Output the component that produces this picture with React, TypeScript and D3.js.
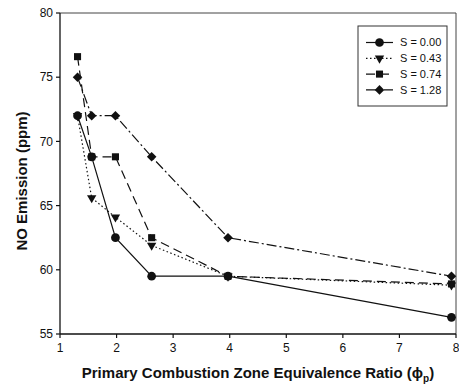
import React from "react";
import * as d3 from "d3";

const phi = [1.31, 1.56, 1.98, 2.62, 3.97, 7.92];
const s000 = [72.0, 68.8, 62.5, 59.5, 59.5, 56.3];
const s043 = [72.0, 65.6, 64.1, 61.9, 59.5, 58.8];
const s074 = [76.6, 68.8, 68.8, 62.5, 59.5, 58.9];
const s128 = [75.0, 72.0, 72.0, 68.8, 62.5, 59.5];
const seriesNames = ["S = 0.00", "S = 0.43", "S = 0.74", "S = 1.28"];
const xTicks = [1, 2, 3, 4, 5, 6, 7, 8];
const yTicks = [55, 60, 65, 70, 75, 80];

const W = 459, H = 388;
const L = 60, R = 456, T = 13, B = 334;

const styles = [
  { dash: "", sym: d3.symbolCircle, size: 60, rot: 0 },
  { dash: "1.5,2.5", sym: d3.symbolTriangle, size: 38, rot: 180 },
  { dash: "9,5", sym: d3.symbolSquare, size: 50, rot: 0 },
  { dash: "10,3,2,3", sym: d3.symbolSquare, size: 46, rot: 45 },
];

export default function App() {
  const x = d3.scaleLinear().domain([1, 8]).range([L, R]);
  const y = d3.scaleLinear().domain([55, 80]).range([B, T]);
  const all = [s000, s043, s074, s128];
  const line = d3.line<number>().x((_, i) => x(phi[i])).y((d) => y(d));
  const font = "'Liberation Sans', Arial, sans-serif";
  const ink = "#111";
  const legX = 358, legY = 26, legW = 89, legH = 80;
  return (
    <svg width={W} height={H} style={{ position: "absolute", left: 0, top: 0, background: "#fff" }}>
      <rect x={0} y={0} width={W} height={H} fill="#fff" />
      <line x1={L} x2={R} y1={T} y2={T} stroke="#444" strokeWidth={1} />
      <line x1={R} x2={R} y1={T} y2={B} stroke="#444" strokeWidth={1} />
      <line x1={L} x2={L} y1={T} y2={B} stroke={ink} strokeWidth={1.3} />
      <line x1={L} x2={R} y1={B} y2={B} stroke={ink} strokeWidth={1.3} />
      {yTicks.map((t) => (
        <g key={"y" + t}>
          <line x1={L - 4} x2={L} y1={y(t)} y2={y(t)} stroke={ink} strokeWidth={1.2} />
          <text x={L - 7} y={y(t)} dy="0.35em" textAnchor="end" fontFamily={font} fontSize={12} fill={ink}>{t}</text>
        </g>
      ))}
      {xTicks.map((t) => (
        <g key={"x" + t}>
          <line x1={x(t)} x2={x(t)} y1={B} y2={B + 4} stroke={ink} strokeWidth={1.2} />
          <text x={x(t)} y={B + 18} textAnchor="middle" fontFamily={font} fontSize={12} fill={ink}>{t}</text>
        </g>
      ))}
      {all.map((s, k) => (
        <g key={"s" + k}>
          <path d={line(s) || ""} fill="none" stroke={ink} strokeWidth={1.2} strokeDasharray={styles[k].dash} />
          {s.map((v, i) => (
            <path key={i} d={d3.symbol().type(styles[k].sym).size(styles[k].size)() || ""}
              transform={`translate(${x(phi[i])},${y(v)}) rotate(${styles[k].rot})`} fill={ink} />
          ))}
        </g>
      ))}
      <rect x={legX} y={legY} width={legW} height={legH} fill="#fff" stroke="#333" strokeWidth={1} />
      {seriesNames.map((n, k) => {
        const cy = legY + 16.5 + k * 15.8;
        return (
          <g key={"l" + k}>
            <line x1={366} x2={393} y1={cy} y2={cy} stroke={ink} strokeWidth={1.2} strokeDasharray={styles[k].dash} />
            <path d={d3.symbol().type(styles[k].sym).size(styles[k].size)() || ""}
              transform={`translate(379.5,${cy}) rotate(${styles[k].rot})`} fill={ink} />
            <text x={400} y={cy} dy="0.35em" fontFamily={font} fontSize={11} fill={ink}>{n}</text>
          </g>
        );
      })}
      <text transform={`translate(27,181) rotate(-90)`} textAnchor="middle" fontFamily={font}
        fontSize={15} fontWeight="bold" fill={ink}>NO Emission (ppm)</text>
      <text x={258} y={378} textAnchor="middle" fontFamily={font} fontSize={15} fontWeight="bold" fill={ink}>
        Primary Combustion Zone Equivalence Ratio (ϕ<tspan fontSize={10} dy={4}>p</tspan><tspan dy={-4}>)</tspan>
      </text>
    </svg>
  );
}
